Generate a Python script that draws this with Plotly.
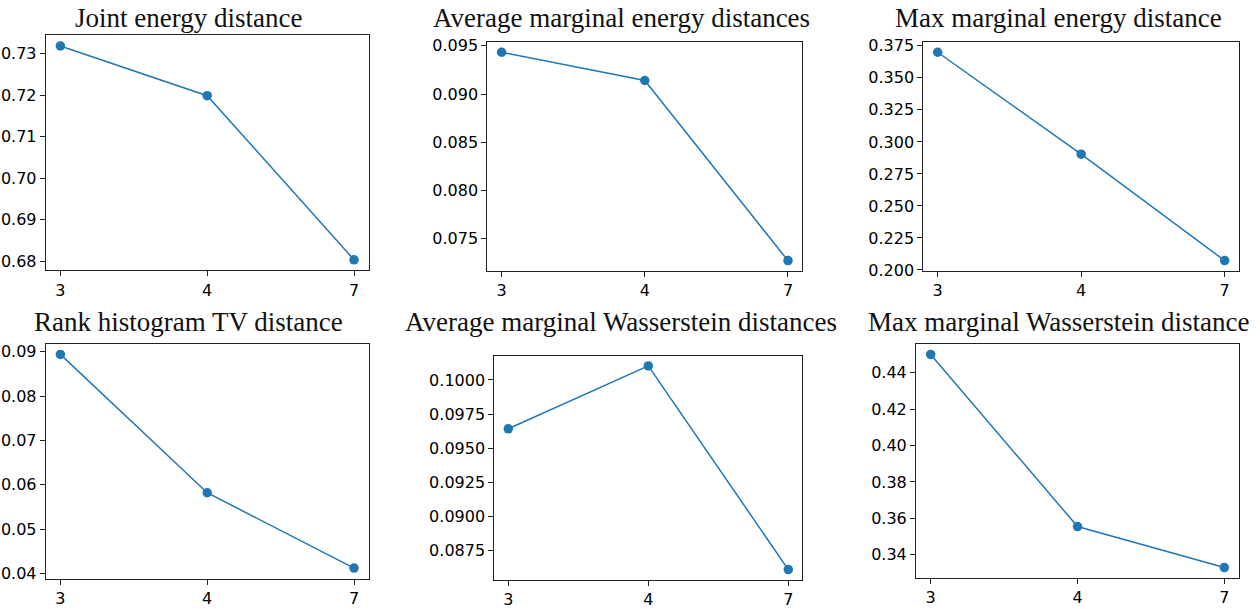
import plotly.graph_objects as go

W, H = 1260, 609

categories = ["3", "4", "7"]

titles = [
    "Joint energy distance",
    "Average marginal energy distances",
    "Max marginal energy distance",
    "Rank histogram TV distance",
    "Average marginal Wasserstein distances",
    "Max marginal Wasserstein distance",
]

joint_energy = [0.7319, 0.7199, 0.6803]
avg_marg_energy = [0.09433, 0.09140, 0.07273]
max_marg_energy = [0.3700, 0.2904, 0.2073]
rank_hist_tv = [0.0894, 0.0582, 0.0412]
avg_marg_wass = [0.09642, 0.10103, 0.08609]
max_marg_wass = [0.4500, 0.3555, 0.3330]

series = [joint_energy, avg_marg_energy, max_marg_energy,
          rank_hist_tv, avg_marg_wass, max_marg_wass]

dticks = [0.01, 0.005, 0.025, 0.01, 0.0025, 0.02]
formats = [".2f", ".3f", ".3f", ".2f", ".4f", ".2f"]

# panel frames in pixels: (left, right, top, bottom)
frames = [
    (45.7, 368.7, 31.0, 271.7),
    (487.3, 802.3, 37.7, 272.3),
    (923.3, 1239.0, 37.7, 272.3),
    (45.7, 368.7, 346.7, 587.3),
    (494.3, 802.3, 359.0, 588.3),
    (916.0, 1239.0, 346.7, 586.7),
]
title_cx = [188, 621, 1058, 188, 621, 1058]
title_top = [-3.5, -3.5, -3.5, 308, 308, 308]

fig = go.Figure()
layout = dict(
    width=W, height=H,
    margin=dict(l=0, r=0, t=0, b=0),
    paper_bgcolor="white", plot_bgcolor="white",
    showlegend=False,
    font=dict(family="DejaVu Sans", size=16, color="black"),
)
annotations = []
blue = "#1f77b4"

for i, vals in enumerate(series):
    n = i + 1
    xa = "x" if n == 1 else f"x{n}"
    ya = "y" if n == 1 else f"y{n}"
    fig.add_trace(go.Scatter(
        x=categories, y=vals, mode="lines+markers",
        line=dict(color=blue, width=1.5),
        marker=dict(color=blue, size=9.5),
        xaxis=xa, yaxis=ya, cliponaxis=False,
    ))
    l, r, t, b = frames[i]
    lo, hi = min(vals), max(vals)
    pad = 0.05 * (hi - lo)
    axis_common = dict(
        showline=True, linecolor="#222", linewidth=1, mirror=True,
        ticks="outside", ticklen=5, tickcolor="#222", tickwidth=1,
        showgrid=False, zeroline=False,
        tickfont=dict(family="DejaVu Sans", size=16, color="black"),
    )
    layout["xaxis" if n == 1 else f"xaxis{n}"] = dict(
        domain=[l / W, r / W], anchor=ya, type="category",
        range=[-0.1, 2.1], **axis_common,
    )
    layout["yaxis" if n == 1 else f"yaxis{n}"] = dict(
        domain=[1 - b / H, 1 - t / H], anchor=xa,
        range=[lo - pad, hi + pad], tick0=0, dtick=dticks[i],
        tickformat=formats[i], **axis_common,
    )
    annotations.append(dict(
        text=titles[i], xref="paper", yref="paper",
        x=title_cx[i] / W, y=1 - title_top[i] / H,
        xanchor="center", yanchor="top", showarrow=False,
        borderpad=0,
        font=dict(family="Liberation Serif", size=27, color="#111"),
    ))

layout["annotations"] = annotations
fig.update_layout(**layout)
fig.write_html("out.html")
